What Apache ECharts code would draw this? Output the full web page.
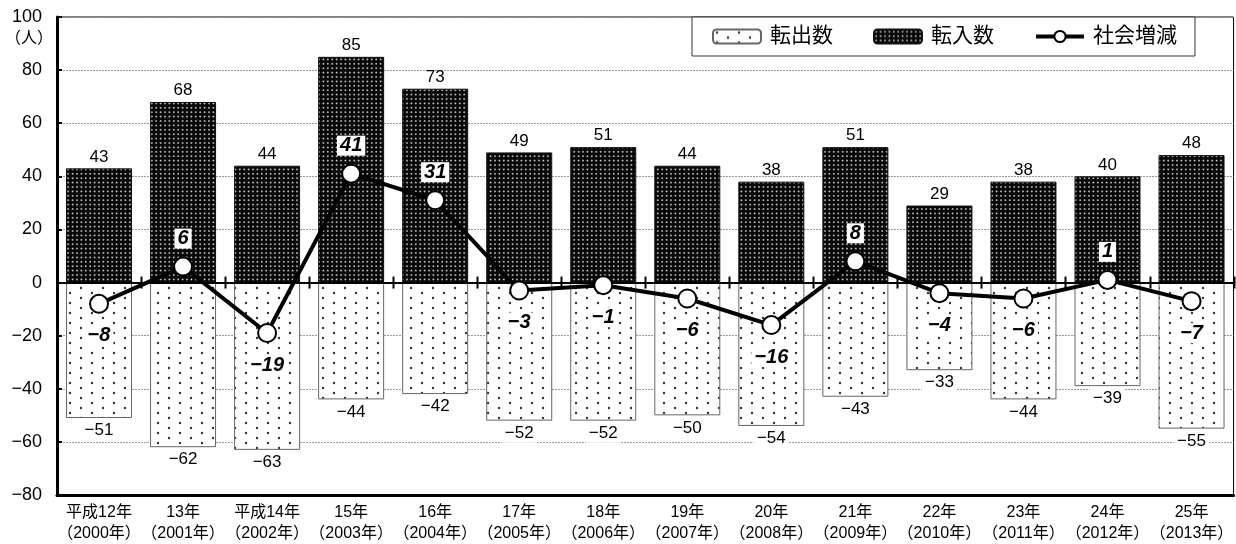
<!DOCTYPE html>
<html>
<head>
<meta charset="utf-8">
<script src="https://cdn.jsdelivr.net/npm/echarts@6/dist/echarts.min.js"></script>
<style>
  html, body { margin: 0; padding: 0; background: #fff; }
  #chart { width: 1236px; height: 544px; }
</style>
</head>
<body>
<div id="chart"></div>
<script>
// 年次ラベル（和暦・西暦）
const eraLabels = ['平成12年', '13年', '平成14年', '15年', '16年', '17年', '18年', '19年', '20年', '21年', '22年', '23年', '24年', '25年'];
const yearLabels = ['（2000年）', '（2001年）', '（2002年）', '（2003年）', '（2004年）', '（2005年）', '（2006年）', '（2007年）', '（2008年）', '（2009年）', '（2010年）', '（2011年）', '（2012年）', '（2013年）'];

// 転出数（負値）・転入数・社会増減
const moveOut = [-51, -62, -63, -44, -42, -52, -52, -50, -54, -43, -33, -44, -39, -55];
const moveIn = [43, 68, 44, 85, 73, 49, 51, 44, 38, 51, 29, 38, 40, 48];
const netChange = [-8, 6, -19, 41, 31, -3, -1, -6, -16, 8, -4, -6, 1, -7];

// 縦軸の目盛
const yMin = -80;
const yMax = 100;
const yStep = 20;

const FONT = "'Liberation Sans', 'Noto Sans CJK JP', sans-serif";
const categories = eraLabels.map((e, i) => e + '\n' + yearLabels[i]);
const minus = v => String(v).replace('-', '\u2212');

// 転入数：黒地に白い点の網掛け
function darkTile() {
  const c = document.createElement('canvas');
  c.width = 22; c.height = 22;
  const g = c.getContext('2d');
  g.fillStyle = '#080808';
  g.fillRect(0, 0, 22, 22);
  for (let i = 0; i < 5; i++) {
    for (let j = 0; j < 5; j++) {
      const x = 2.2 + i * 4.4, y = 2.2 + j * 4.4;
      const grd = g.createRadialGradient(x, y, 0, x, y, 1.5);
      grd.addColorStop(0, 'rgba(255,255,255,0.9)');
      grd.addColorStop(1, 'rgba(255,255,255,0)');
      g.fillStyle = grd;
      g.beginPath(); g.arc(x, y, 1.5, 0, Math.PI * 2); g.fill();
    }
  }
  return c;
}

// 転出数：白地に千鳥配置の点
function dotTile() {
  const c = document.createElement('canvas');
  c.width = 22; c.height = 10;
  const g = c.getContext('2d');
  g.fillStyle = '#fff';
  g.fillRect(0, 0, 22, 10);
  g.fillStyle = '#333';
  [[4, 3], [15, 8]].forEach(([x, y]) => {
    g.beginPath(); g.arc(x, y, 1.2, 0, Math.PI * 2); g.fill();
  });
  return c;
}

const chart = echarts.init(document.getElementById('chart'), null, { renderer: 'canvas' });

const catAxisBase = {
  type: 'category',
  data: categories,
  boundaryGap: true,
  splitLine: { show: false }
};

chart.setOption({
  animation: false,
  backgroundColor: '#fff',
  textStyle: { fontFamily: FONT },
  grid: {
    left: 57, top: 17, width: 1186, height: 479,
    show: true, borderColor: '#000', borderWidth: 1, backgroundColor: 'transparent'
  },
  legend: {
    left: 692, top: 17,
    padding: [9, 18, 9, 20],
    itemWidth: 48, itemHeight: 14, itemGap: 40,
    backgroundColor: '#fff',
    borderColor: '#333', borderWidth: 1,
    lineStyle: { width: 4, color: '#000' },
    textStyle: { fontSize: 21, color: '#000', fontFamily: FONT, padding: [0, 0, 0, 4] },
    data: ['転出数', '転入数', '社会増減']
  },
  graphic: [{
    type: 'text', left: 5, top: 31,
    style: { text: '（人）', fontSize: 16, fill: '#000', fontFamily: FONT }
  }],
  xAxis: [
    Object.assign({}, catAxisBase, {
      position: 'bottom',
      axisLine: { onZero: false, lineStyle: { color: '#000', width: 3 } },
      axisTick: { show: false },
      axisLabel: { interval: 0, fontSize: 16, color: '#000', lineHeight: 21, margin: 7, fontFamily: FONT }
    }),
    // ゼロの基準線
    Object.assign({}, catAxisBase, {
      position: 'bottom',
      z: 3,
      axisLine: { onZero: true, lineStyle: { color: '#000', width: 2 } },
      axisTick: { show: false },
      axisLabel: { show: false }
    })
  ],
  yAxis: {
    type: 'value',
    min: yMin, max: yMax, interval: yStep,
    axisLine: { show: true, onZero: false, lineStyle: { color: '#000', width: 3 } },
    axisTick: { show: true, inside: true, length: 5, lineStyle: { color: '#000', width: 2 } },
    splitLine: { show: true, lineStyle: { color: '#999', width: 1, type: [2, 1] } },
    axisLabel: { fontSize: 18, color: '#000', margin: 15, fontFamily: FONT, formatter: minus }
  },
  series: [
    {
      name: '転出数',
      type: 'bar',
      data: moveOut,
      barWidth: 66,
      barGap: '-100%',
      itemStyle: { color: { image: dotTile(), repeat: 'repeat' }, borderColor: '#666', borderWidth: 1 },
      label: {
        show: true, position: 'outside', distance: 3,
        fontSize: 17, color: '#000', fontFamily: FONT,
        backgroundColor: '#fff', padding: [1, 3],
        formatter: p => minus(p.value)
      },
      z: 2
    },
    {
      name: '転入数',
      type: 'bar',
      data: moveIn,
      barWidth: 66,
      barGap: '-100%',
      itemStyle: { color: { image: darkTile(), repeat: 'repeat' }, borderColor: '#111', borderWidth: 1 },
      label: {
        show: true, position: 'outside', distance: 3,
        fontSize: 17, color: '#000', fontFamily: FONT,
        formatter: p => minus(p.value)
      },
      z: 2
    },
    {
      // ゼロ線上の区切り目盛（上下に突き出す）
      type: 'custom',
      silent: true,
      data: categories.map((c, i) => [i, 0]),
      renderItem: (params, api) => {
        const p = api.coord([api.value(0), 0]);
        const w = api.size([1, 0])[0];
        const x = Math.round(p[0] + w / 2) + 0.5;
        return {
          type: 'line',
          shape: { x1: x, y1: p[1] - 6, x2: x, y2: p[1] + 6 },
          style: { stroke: '#000', lineWidth: 2 }
        };
      },
      z: 4
    },
    {
      name: '社会増減',
      type: 'line',
      data: netChange.map(v => ({
        value: v,
        label: { position: v >= 0 ? 'top' : 'bottom', distance: v >= 0 ? 8 : 12 }
      })),
      symbol: 'circle',
      symbolSize: 18,
      lineStyle: { color: '#000', width: 4 },
      itemStyle: { color: '#fff', borderColor: '#000', borderWidth: 2 },
      label: {
        show: true,
        fontSize: 20, fontWeight: 'bold', fontStyle: 'italic',
        color: '#000', fontFamily: FONT,
        backgroundColor: '#fff', padding: [0, 3],
        formatter: p => minus(p.value)
      },
      z: 5
    }
  ]
});
</script>
</body>
</html>
